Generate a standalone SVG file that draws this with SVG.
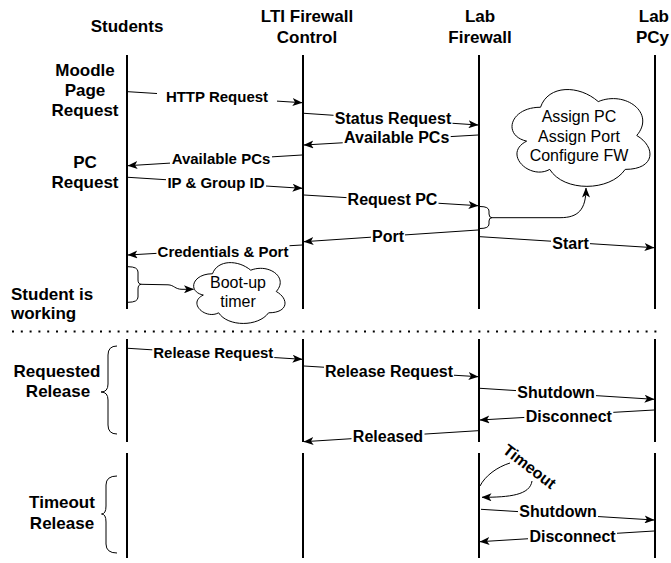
<svg xmlns="http://www.w3.org/2000/svg" width="671" height="563" viewBox="0 0 671 563">
<defs>
<marker id="arr" markerUnits="userSpaceOnUse" viewBox="0 0 10 8" markerWidth="10" markerHeight="8" refX="9.5" refY="4" orient="auto">
<path d="M0,0 L10,4 L0,8 L2.5,4 Z" fill="#000"/>
</marker>
<style>
text{font-family:"Liberation Sans",Arial,Helvetica,sans-serif;fill:#000}
.hd{font-size:17px;font-weight:bold;text-anchor:middle}
.side{font-size:17px;font-weight:bold;text-anchor:middle}
.l15{font-size:15px;font-weight:bold;text-anchor:middle}
.l16{font-size:16px;font-weight:bold;text-anchor:middle}
.cl{font-size:16px;text-anchor:middle}
.life{stroke:#000;stroke-width:2;fill:none}
.msg{stroke:#000;stroke-width:1;fill:none;marker-end:url(#arr)}
.ln{stroke:#000;stroke-width:1;fill:none}
.bg{fill:#fff}
.cloud{fill:#fff;stroke:#000;stroke-width:1}
</style>
</defs>
<rect width="671" height="563" fill="#fff"/>

<g id="students">
<text class="hd" x="127" y="32">Students</text>
<path class="life" d="M127 55V309M127 339V442M127 453V558"/>
</g>
<g id="lti">
<text class="hd" x="307" y="22">LTI Firewall</text>
<text class="hd" x="307" y="43">Control</text>
<path class="life" d="M303 55V309M303 339V442M303 453V558"/>
</g>
<g id="labfw">
<text class="hd" x="480" y="22">Lab</text>
<text class="hd" x="480" y="43">Firewall</text>
<path class="life" d="M479 55V309M479 339V442M479 453V558"/>
</g>
<g id="labpc">
<text class="hd" x="669" y="22" style="text-anchor:end">Lab</text>
<text class="hd" x="669" y="43" style="text-anchor:end">PCy</text>
<path class="life" d="M655 55V309M655 339V442M655 453V558"/>
</g>

<g id="side-labels">
<text class="side" x="85" y="76">Moodle</text>
<text class="side" x="85" y="96">Page</text>
<text class="side" x="85" y="116">Request</text>
<text class="side" x="85" y="168">PC</text>
<text class="side" x="85" y="188">Request</text>
<text class="side" x="11" y="300" style="text-anchor:start">Student is</text>
<text class="side" x="11" y="319" style="text-anchor:start">working</text>
<text class="side" x="57" y="377">Requested</text>
<text class="side" x="58" y="397">Release</text>
<text class="side" x="62" y="508">Timeout</text>
<text class="side" x="62" y="529">Release</text>
<path class="ln" d="M117 346Q108 346 108 355L108 384Q108 392 101 392Q108 392 108 400L108 425Q108 434 117 434"/>
<path class="ln" d="M117 476Q106 476 106 485L106 506Q106 514 101.5 514Q106 514 106 522L106 544Q106 553 117 553"/>
</g>

<line id="separator" x1="12" y1="331.5" x2="662" y2="331.5" stroke="#000" stroke-width="2" stroke-dasharray="2 6.8"/>

<g id="cloud-assign">
<path class="cloud" d="M540.5 107.25C509.7 107.25 502 135.5 526.64 141.15C502 153.58 529.72 180.7 549.74 169.4C563.6 192 609.8 192 625.2 169.4C656 169.4 656 146.8 636.75 135.5C656 112.9 625.2 90.3 598.25 101.6C579 84.650 548.2 84.65 540.5 107.25Z"/>
<text class="cl" x="579" y="122">Assign PC</text>
<text class="cl" x="579" y="142">Assign Port</text>
<text class="cl" x="579" y="161">Configure FW</text>
</g>
<g id="cloud-boot">
<path class="cloud" d="M212.5 273.75C192.1 273.75 187 291.5 203.32 295.05C187 302.86 205.36 319.9 218.62 312.8C227.8 327 258.4 327 268.6 312.8C289 312.8 289 298.6 276.25 291.5C289 277.3 268.6 263.1 250.75 270.2C238 259.55 217.6 259.55 212.5 273.75Z"/>
<text class="cl" x="238" y="288">Boot-up</text>
<text class="cl" x="238" y="307">timer</text>
</g>

<g id="connectors">
<line class="msg" x1="128" y1="91.7" x2="302" y2="102.7"/>
<line class="msg" x1="304" y1="113.3" x2="478" y2="125"/>
<line class="msg" x1="478" y1="135" x2="304" y2="145"/>
<line class="msg" x1="302" y1="155" x2="128" y2="165.7"/>
<line class="msg" x1="128" y1="177.3" x2="302" y2="188.3"/>
<line class="msg" x1="304" y1="195" x2="478" y2="205.7"/>
<line class="msg" x1="302" y1="245" x2="128" y2="255"/>
<line class="msg" x1="478" y1="230" x2="304" y2="241.7"/>
<line class="msg" x1="480" y1="236.7" x2="654" y2="247.7"/>
<line class="msg" x1="128" y1="348.3" x2="302" y2="359.3"/>
<line class="msg" x1="304" y1="366" x2="478" y2="376.7"/>
<line class="msg" x1="480" y1="388.3" x2="654" y2="399.3"/>
<line class="msg" x1="654" y1="410" x2="480" y2="420"/>
<line class="msg" x1="478" y1="430.7" x2="304" y2="441.7"/>
<line class="msg" x1="481" y1="509.3" x2="654" y2="520"/>
<line class="msg" x1="654" y1="531" x2="480" y2="541.7"/>
<path class="ln" d="M480 206.5Q489 206.5 489 211L489 214Q489 217.7 492 217.7Q489 217.7 489 221L489 224Q489 228.5 480 228.5"/>
<path class="msg" d="M492 217.7L560 217.7C578 217.7 586 210 586 188"/>
<path class="ln" d="M128 266.7Q138 266.7 138 272L138 280Q138 284.3 141.5 284.3Q138 284.3 138 289L138 297Q138 302.3 128 302.3"/>
<path class="msg" d="M141.5 284.3L168 284.8C174 285 175 289.3 182 289.3L193.5 289.3"/>
<path class="ln" d="M480 486C485 476 497 467 510 463"/>
<path class="msg" d="M532 481C530 495 510 497.3 482 497.3"/>

<rect class="bg" x="157" y="89" width="120" height="16"/>
<text class="l15" x="217" y="101.5">HTTP Request</text>
<rect class="bg" x="333.5" y="111" width="119" height="17"/>
<text class="l16" x="393" y="124">Status Request</text>
<rect class="bg" x="342.7" y="130.5" width="108" height="17"/>
<text class="l16" x="396.7" y="143.3">Available PCs</text>
<rect class="bg" x="170" y="152" width="102" height="16"/>
<text class="l15" x="221" y="164.3">Available PCs</text>
<rect class="bg" x="166" y="176" width="100" height="16"/>
<text class="l15" x="216" y="188.3">IP &amp; Group ID</text>
<rect class="bg" x="346.5" y="192" width="92" height="17"/>
<text class="l16" x="392.5" y="205">Request PC</text>
<rect class="bg" x="156.5" y="244.5" width="133" height="16"/>
<text class="l15" x="223" y="256.7">Credentials &amp; Port</text>
<rect class="bg" x="371" y="229.5" width="34" height="17"/>
<text class="l16" x="388" y="242.3">Port</text>
<rect class="bg" x="551" y="236" width="39" height="17"/>
<text class="l16" x="570.5" y="249">Start</text>
<rect class="bg" x="152.3" y="346" width="122" height="16"/>
<text class="l15" x="213.3" y="358.3">Release Request</text>
<rect class="bg" x="324" y="364.5" width="130" height="17"/>
<text class="l16" x="389" y="377.3">Release Request</text>
<rect class="bg" x="516" y="385.5" width="80" height="17"/>
<text class="l16" x="556" y="398.3">Shutdown</text>
<rect class="bg" x="524.3" y="409" width="89" height="17"/>
<text class="l16" x="568.8" y="421.7">Disconnect</text>
<rect class="bg" x="351.5" y="429" width="73" height="17"/>
<text class="l16" x="388" y="441.7">Released</text>
<rect class="bg" x="518" y="504" width="80" height="17"/>
<text class="l16" x="558" y="516.7">Shutdown</text>
<rect class="bg" x="528" y="529" width="89" height="17"/>
<text class="l16" x="572.5" y="541.7">Disconnect</text>
<text class="l16" x="0" y="5.5" transform="translate(529.5 466.5) rotate(37.7)">Timeout</text>
</g>
</svg>
